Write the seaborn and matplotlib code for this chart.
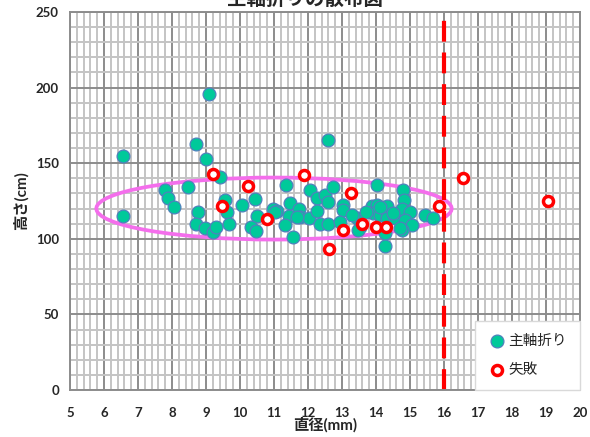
import matplotlib
matplotlib.use("Agg")
import matplotlib.pyplot as plt
from matplotlib.patches import Ellipse
from matplotlib.ticker import MultipleLocator
import seaborn as sns
import pandas as pd

# ---- data ----
ok_x = [6.56, 6.57, 9.08, 8.71, 8.99, 9.42, 7.80, 7.88, 8.06, 8.47, 8.77, 8.71, 8.97, 9.22, 9.29,
        9.56, 9.61, 9.68, 10.05, 10.44, 10.49, 10.31, 10.47, 10.98, 11.10, 11.34, 11.47, 11.74,
        11.45, 11.76, 11.32, 11.57, 12.06, 12.26, 12.50, 12.60, 12.74, 12.58, 12.04, 12.27, 12.35,
        12.60, 13.02, 13.02, 12.94, 13.43, 13.53, 13.48, 13.87, 14.02, 14.02, 13.92, 14.12, 14.33,
        14.31, 14.56, 14.26, 14.26, 14.80, 14.82, 14.75, 15.00, 14.85, 15.05, 14.75, 15.44, 15.69,
        14.12, 13.30, 13.70, 14.50, 14.70, 11.03, 11.67]
ok_y = [155, 115, 196, 162.5, 153, 141, 132, 127, 121, 134, 117.5, 110, 107, 104.7, 107.5,
        125.7, 118, 110, 122.4, 126, 115, 107.5, 105, 119.4, 118.4, 135.6, 123.4, 119.7,
        115, 114.2, 109, 101.4, 132.3, 126.8, 129, 124.5, 134.5, 165.3, 114, 118.6, 109.8,
        109.8, 122.4, 119, 111.3, 113.5, 108, 105.8, 121.7, 135.6, 122.4, 116.9, 115.7, 121.7,
        113.5, 113.5, 103.6, 95.2, 132.3, 125.7, 119.7, 118, 112.4, 109, 105.8, 115.7, 113.5,
        121.2, 116, 118, 117, 107, 118, 114.6]
ng_x = [9.22, 10.23, 9.48, 10.80, 11.89, 13.27, 13.03, 12.63, 13.58, 14.00, 14.28, 15.85, 16.57, 19.06]
ng_y = [142.6, 135, 122, 113, 142.5, 130, 106, 93, 110, 108, 107.5, 122, 140, 125]

x_ticks = list(range(5, 21))
y_ticks = [0, 50, 100, 150, 200, 250]
limit_x = 16
title = "主軸折りの散布図"
x_label = "直径(mm)"
y_label = "高さ(cm)"
ok_label = "主軸折り"
ng_label = "失敗"

# ---- style ----
sns.set_theme(style="white")
plt.rcParams["font.family"] = ["Lato", "Noto Sans CJK JP", "DejaVu Sans"]

fig = plt.figure(figsize=(5.9, 4.37), dpi=100)
ax = fig.add_axes([70 / 590, 1 - 390 / 437, 510 / 590, 378 / 437])

ok_df = pd.DataFrame({"x": ok_x, "y": ok_y})
ng_df = pd.DataFrame({"x": ng_x, "y": ng_y})

ax.set_xlim(5, 20)
ax.set_ylim(0, 250)
ax.xaxis.set_major_locator(MultipleLocator(1))
ax.xaxis.set_minor_locator(MultipleLocator(0.2))
ax.yaxis.set_major_locator(MultipleLocator(50))
ax.yaxis.set_minor_locator(MultipleLocator(10))
ax.grid(which="minor", color="#C4C4C4", linewidth=1.4, zorder=0)
ax.grid(which="major", color="#8C8C8C", linewidth=1.4, zorder=0)
ax.set_axisbelow(True)
for s in ax.spines.values():
    s.set_color("#8C8C8C")
    s.set_linewidth(1.4)

# ellipse shape annotation
ell = Ellipse((11.0, 120), 10.45, 41, fill=False, edgecolor="#F46EEC", linewidth=2.7, zorder=2)
ax.add_patch(ell)

ax.axvline(limit_x, color="#FF0000", linewidth=3, linestyle=(0, (5, 2.6)), zorder=2)

sns.scatterplot(data=ok_df, x="x", y="y", ax=ax, s=85, color="#00C99A",
                edgecolor="#4F81BD", linewidth=0.9, zorder=3, label=ok_label)
sns.scatterplot(data=ng_df, x="x", y="y", ax=ax, s=52, facecolor="white",
                edgecolor="#FF0000", linewidth=2.5, zorder=4, label=ng_label)

ax.set_xticks(x_ticks)
ax.set_yticks(y_ticks)
ax.tick_params(axis="both", which="major", labelsize=9.5, length=5, color="#8C8C8C",
               width=1.2, direction="out", pad=3)
ax.tick_params(axis="both", which="minor", length=0)
for lab in ax.get_xticklabels() + ax.get_yticklabels():
    lab.set_fontweight("bold")
ax.tick_params(axis="x", pad=7)

ax.set_xlabel(x_label, fontsize=11, fontweight="bold", labelpad=-1)
ax.set_ylabel(y_label, fontsize=11, fontweight="bold", labelpad=5)

leg = ax.legend(loc="lower right", bbox_to_anchor=(1.0, 0.0), borderaxespad=0.0,
                frameon=True, fancybox=False, fontsize=10.5, handletextpad=0.2,
                borderpad=0.9, labelspacing=1.0, handlelength=1.2)
leg.get_frame().set_edgecolor("#D9D9D9")
leg.get_frame().set_facecolor("white")
leg.get_frame().set_alpha(1)

fig.text(305 / 590, 1 - 8 / 437, title, ha="center", va="bottom", fontsize=14, fontweight="bold")

fig.savefig("out.png", dpi=100)
